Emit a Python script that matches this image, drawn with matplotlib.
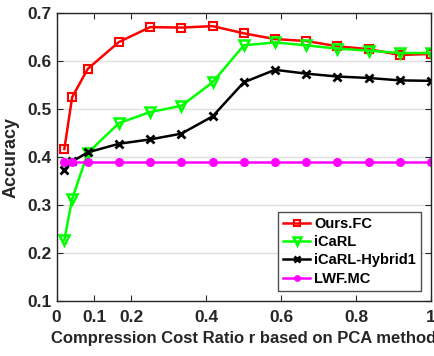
import numpy as np
import matplotlib.pyplot as plt

plt.rcParams['font.family'] = ['Liberation Sans', 'DejaVu Sans']
plt.rcParams['font.weight'] = 'bold'

# compression ratios
ratio = [1/48, 1/24, 1/12, 2/12, 3/12, 4/12, 5/12, 6/12, 7/12, 8/12, 9/12, 10/12, 11/12, 1.0]

ours_fc = [0.417, 0.525, 0.584, 0.640, 0.671, 0.670, 0.673, 0.658, 0.646, 0.642, 0.631, 0.625, 0.613, 0.615]
icarl = [0.228, 0.313, 0.409, 0.471, 0.494, 0.507, 0.556, 0.633, 0.639, 0.633, 0.626, 0.622, 0.617, 0.617]
icarl_hybrid1 = [0.374, 0.391, 0.410, 0.428, 0.437, 0.449, 0.485, 0.556, 0.582, 0.574, 0.568, 0.565, 0.560, 0.559]
lwf_mc = [0.39] * 14

xtick_vals = [0, 0.1, 0.2, 0.4, 0.6, 0.8, 1]
xtick_labels = ['0', '0.1', '0.2', '0.4', '0.6', '0.8', '1']

fig = plt.figure(figsize=(4.35, 3.56), dpi=100)
ax = fig.add_axes([0.130, 0.154, 0.861, 0.809])

ax.plot(ratio, ours_fc, color='#ff0000', lw=1.8, marker='s', ms=6, mfc='none', mew=1.5, label='Ours.FC')
ax.plot(ratio, icarl, color='#00ff00', lw=1.8, marker='v', ms=7.5, mfc='none', mew=1.8, label='iCaRL')
ax.plot(ratio, icarl_hybrid1, color='black', lw=1.8, marker='x', ms=5.5, mew=2, label='iCaRL-Hybrid1')
ax.plot(ratio, lwf_mc, color='#ff00ff', lw=1.8, marker='o', ms=5.5, label='LWF.MC')

ax.set_xlim(0, 1)
ax.set_ylim(0.1, 0.7)
ax.set_xticks(xtick_vals)
ax.set_xticklabels(xtick_labels)
ax.set_yticks(np.arange(0.1, 0.71, 0.1))
ax.set_yticklabels(['0.1', '0.2', '0.3', '0.4', '0.5', '0.6', '0.7'])
ax.yaxis.grid(True, color='#e0e0e0', lw=1)
ax.set_axisbelow(True)
ax.tick_params(direction='in', top=True, right=True, labelsize=12.5, colors='#262626', length=4)
ax.tick_params(axis='x', pad=6)
for s in ax.spines.values():
    s.set_color('#262626')
    s.set_linewidth(1)

ax.set_xlabel('Compression Cost Ratio r based on PCA method', fontsize=12, fontweight='bold',
              color='#262626', labelpad=5)
ax.set_ylabel('Accuracy', fontsize=13, fontweight='bold', color='#262626', labelpad=6)

leg = ax.legend(loc='lower right', fontsize=10.5, frameon=True, fancybox=False, edgecolor='#262626',
                borderaxespad=0.7, handlelength=1.8, handletextpad=0.3, borderpad=0.35,
                labelspacing=0.3, markerscale=0.7)
leg.get_frame().set_linewidth(1)

plt.savefig('out.png', dpi=100)
